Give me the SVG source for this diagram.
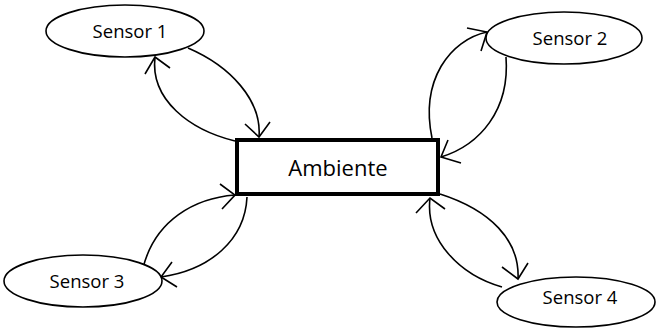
<svg xmlns="http://www.w3.org/2000/svg" width="664" height="329" viewBox="0 0 664 329">
  <style>
    .node { fill: #fff; stroke: #000; stroke-width: 1.6; }
    .box { fill: #fff; stroke: #000; stroke-width: 4; }
    .label { font-family: "Open Sans", "Liberation Sans", sans-serif; font-size: 18.5px; fill: #000; text-anchor: middle; dominant-baseline: central; }
    .big { font-size: 22px; }
    .edge { fill: none; stroke: #000; stroke-width: 1.6; }
  </style>
  <rect width="664" height="329" fill="#fff"/>

  <g id="connectors">
    <!-- Sensor 1 <-> Ambiente -->
    <path class="edge" d="M188,48 C230,66 262,100 259,137"/>
    <polyline class="edge" points="245,124 259,137 270,122"/>
    <path class="edge" d="M235,141 C190,130 150,100 155,57"/>
    <polyline class="edge" points="145,74 155,57 170,68"/>
    <!-- Sensor 2 <-> Ambiente -->
    <path class="edge" d="M432,138 C420,80 450,40 487,32"/>
    <polyline class="edge" points="467,28 487,32 481,51"/>
    <path class="edge" d="M506,57 C510,110 480,145 441,157"/>
    <polyline class="edge" points="448,140 441,157 461,163"/>
    <!-- Sensor 3 <-> Ambiente -->
    <path class="edge" d="M143,268 C155,220 195,198 235,195"/>
    <polyline class="edge" points="220,184 235,195 222,209"/>
    <path class="edge" d="M247,197 C245,240 210,270 161,277"/>
    <polyline class="edge" points="172,262 161,277 177,287"/>
    <!-- Sensor 4 <-> Ambiente -->
    <path class="edge" d="M440,194 C490,210 520,240 518,279"/>
    <polyline class="edge" points="502,267 518,279 528,263"/>
    <path class="edge" d="M502,287 C460,275 425,240 430,198"/>
    <polyline class="edge" points="416,213 430,198 445,209"/>
  </g>

  <g id="ambiente">
    <rect class="box" x="237" y="140" width="201" height="54"/>
    <text class="label big" x="338" y="167">Ambiente</text>
  </g>
  <g id="sensor1">
    <ellipse class="node" cx="125" cy="31" rx="79" ry="26"/>
    <text class="label" x="130" y="30">Sensor 1</text>
  </g>
  <g id="sensor2">
    <ellipse class="node" cx="564" cy="38" rx="78" ry="26"/>
    <text class="label" x="570" y="37">Sensor 2</text>
  </g>
  <g id="sensor3">
    <ellipse class="node" cx="83" cy="281" rx="79" ry="26"/>
    <text class="label" x="87" y="280">Sensor 3</text>
  </g>
  <g id="sensor4">
    <ellipse class="node" cx="576" cy="302" rx="79" ry="25"/>
    <text class="label" x="580" y="296">Sensor 4</text>
  </g>
</svg>
